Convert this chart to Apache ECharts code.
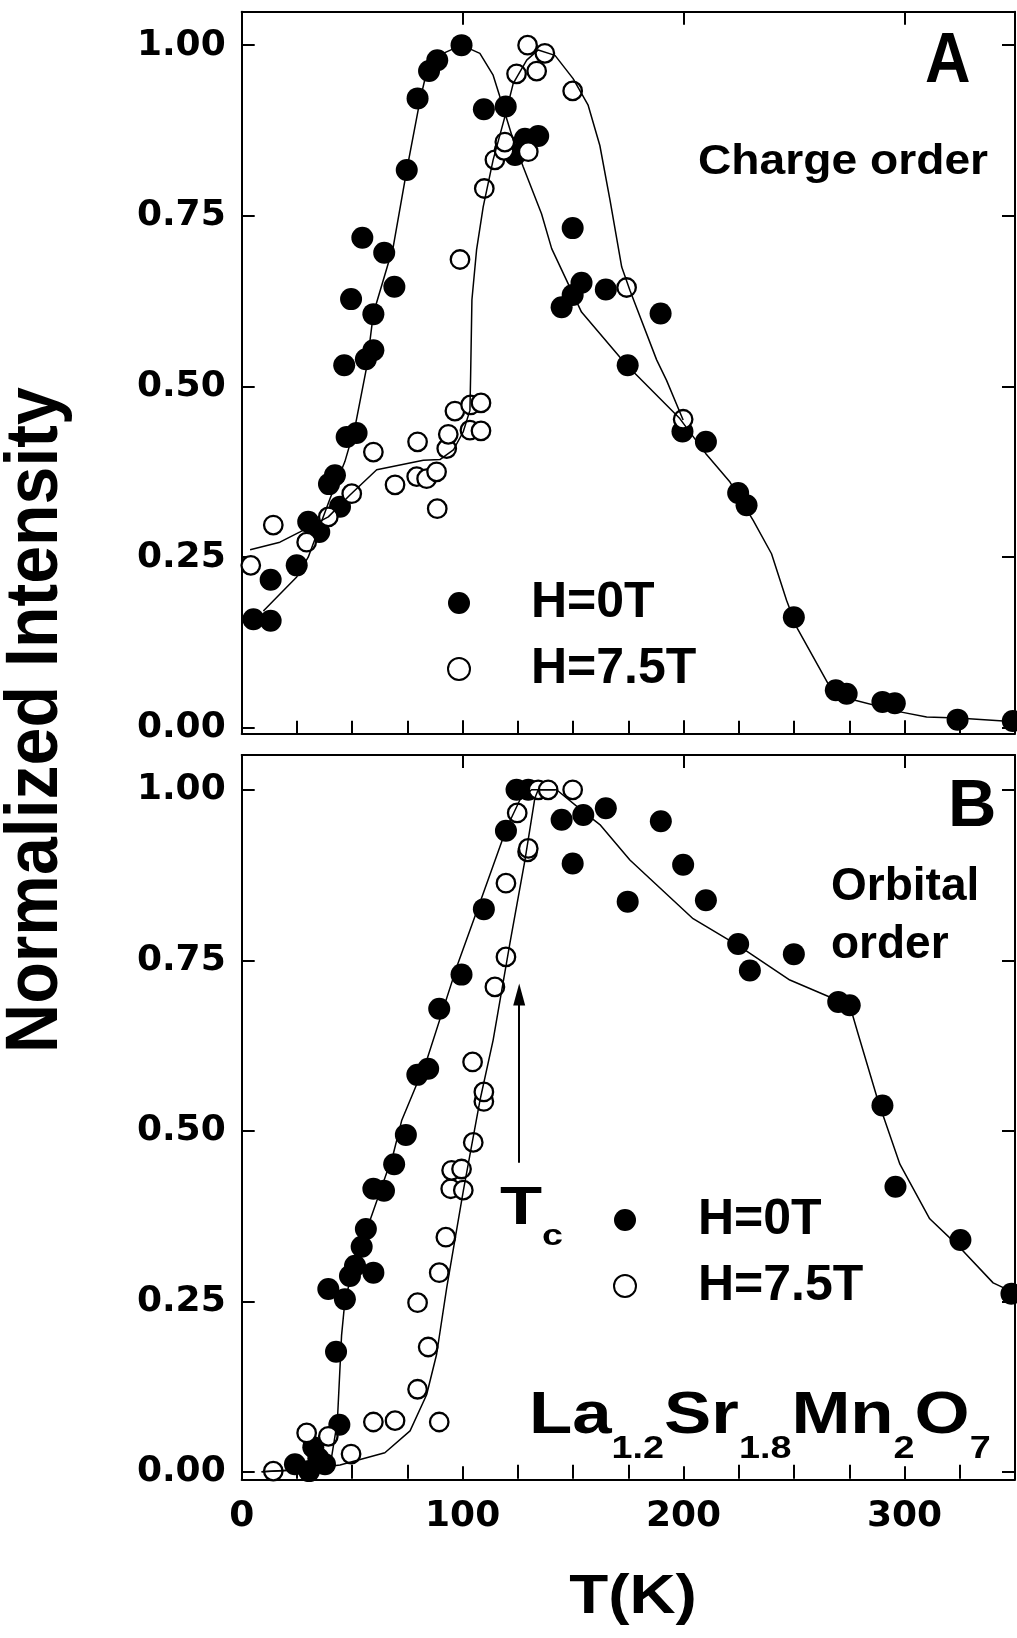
<!DOCTYPE html>
<html><head><meta charset="utf-8">
<script src="https://cdn.jsdelivr.net/npm/echarts@6.0.0/dist/echarts.min.js"></script>
<style>html,body{margin:0;padding:0;background:#fff}#c{width:1017px;height:1638px}</style>
</head><body><div id="c"></div>
<script>
// ---- data: [T (K), normalized intensity] ----
const chargeH0 = [[5.3,0.159],[13.1,0.157],[13.1,0.217],[24.9,0.238],[30.1,0.302],[35.1,0.287],[39.5,0.357],[42.2,0.370],[44.5,0.324],[46.4,0.531],[47.5,0.426],[49.5,0.628],[52.0,0.432],[54.6,0.718],[56.2,0.540],[59.6,0.553],[59.6,0.606],[64.5,0.696],[69.1,0.646],[74.7,0.817],[79.6,0.922],[84.8,0.962],[88.5,0.978],[99.5,1.000],[109.6,0.906],[119.5,0.910],[123.7,0.839],[128.2,0.863],[134.2,0.867],[144.8,0.616],[149.8,0.634],[149.8,0.732],[153.8,0.652],[164.8,0.642],[174.7,0.531],[189.6,0.607],[199.5,0.434],[210.1,0.419],[224.7,0.344],[228.5,0.326],[249.9,0.162],[268.9,0.055],[273.8,0.050],[290.0,0.038],[295.6,0.036],[324.0,0.012],[349.0,0.010]];
const chargeH75 = [[4.1,0.238],[14.3,0.297],[29.4,0.272],[39.2,0.309],[49.8,0.343],[59.6,0.404],[69.4,0.356],[79.2,0.368],[79.6,0.419],[83.7,0.365],[88.2,0.375],[88.5,0.321],[92.8,0.409],[93.5,0.430],[96.5,0.464],[98.8,0.686],[103.3,0.436],[103.6,0.473],[108.3,0.435],[108.3,0.476],[109.8,0.790],[114.6,0.832],[118.7,0.846],[119.1,0.858],[124.4,0.958],[129.4,1.000],[129.7,0.844],[133.5,0.962],[137.2,0.988],[149.8,0.933],[174.2,0.645],[199.8,0.452]];
const chargeFitH0 = [[9.8,0.171],[17,0.195],[24.9,0.221],[30.1,0.250],[40.0,0.336],[46.7,0.390],[51.3,0.441],[56.6,0.529],[59.6,0.607],[68.6,0.705],[74.7,0.817],[80.7,0.919],[83.7,0.961],[91.2,0.988],[99.5,1.000],[107.8,0.988],[113.8,0.956],[116.9,0.924],[122.9,0.861],[127.4,0.822],[135.7,0.753],[140.3,0.702],[153.8,0.609],[171.2,0.543],[175.0,0.529],[198.3,0.453],[210.0,0.402],[221.0,0.360],[231.5,0.304],[239.8,0.255],[246.6,0.187],[251.1,0.148],[266.2,0.060],[276.7,0.041],[298.6,0.023],[310.0,0.016],[324.0,0.0145],[350,0.009]];
const chargeFitH75 = [[3.8,0.261],[17.3,0.272],[26.4,0.287],[39.2,0.309],[49.0,0.341],[61.1,0.378],[82.2,0.392],[89.7,0.393],[95.8,0.407],[100.3,0.434],[103.3,0.465],[103.6,0.514],[104.2,0.627],[106.3,0.700],[109.3,0.763],[113.8,0.832],[119.1,0.895],[122.9,0.944],[129.0,0.978],[134.2,0.993],[141.8,0.985],[150.0,0.951],[156.8,0.912],[162.1,0.853],[166.7,0.773],[172.0,0.675],[175.7,0.641],[187.8,0.539],[192.3,0.509],[199.8,0.451]];
const orbitalH0 = [[24.1,0.011],[30.5,0.001],[32.4,0.036],[34.7,0.020],[37.7,0.011],[39.2,0.268],[42.7,0.176],[44.2,0.069],[46.7,0.253],[49.0,0.287],[51.3,0.302],[54.3,0.330],[56.2,0.356],[59.6,0.292],[59.6,0.415],[64.4,0.412],[69.0,0.451],[74.3,0.494],[79.5,0.582],[84.4,0.591],[89.4,0.679],[99.5,0.729],[109.6,0.825],[119.6,0.940],[124.4,1.000],[129.7,1.000],[144.8,0.956],[149.8,0.892],[154.6,0.963],[164.8,0.973],[174.7,0.836],[189.7,0.954],[199.8,0.890],[210.1,0.838],[224.7,0.774],[230.0,0.735],[249.9,0.759],[270.0,0.689],[275.2,0.684],[290.0,0.537],[295.9,0.418],[325.3,0.340],[348.4,0.261]];
const orbitalH75 = [[14.3,0.001],[29.4,0.057],[39.2,0.052],[49.5,0.026],[59.6,0.073],[69.4,0.075],[79.6,0.121],[79.6,0.248],[84.4,0.183],[89.4,0.073],[89.4,0.292],[92.4,0.344],[94.6,0.415],[95.0,0.442],[99.5,0.444],[100.3,0.413],[104.5,0.601],[104.8,0.483],[109.6,0.543],[109.6,0.557],[114.6,0.711],[119.6,0.755],[119.6,0.863],[124.7,0.966],[129.4,0.909],[129.7,0.914],[134.2,1.000],[138.7,1.000],[149.8,1.000]];
const orbitalFitH0 = [[9,0.0],[28,0.003],[40,0.008],[43.3,0.074],[45.2,0.200],[46.7,0.250],[49.8,0.290],[58.0,0.368],[68.6,0.466],[72.4,0.515],[83.7,0.603],[97.3,0.740],[109.3,0.848],[119.9,0.944],[125.9,0.985],[131.2,1.0],[142.5,1.0],[154.6,0.968],[162.1,0.949],[175.7,0.897],[184.7,0.870],[204.3,0.811],[225.5,0.770],[248.1,0.721],[267.7,0.694],[275.2,0.684],[279.0,0.642],[288.0,0.544],[297.9,0.451],[311.4,0.371],[325.0,0.329],[340.1,0.277],[350,0.262]];
const orbitalFitH75 = [[9,0.0],[30,0.004],[44.5,0.010],[64.8,0.028],[76.2,0.060],[83.7,0.113],[88.2,0.172],[92.8,0.270],[100.3,0.412],[107.8,0.544],[113.8,0.633],[121.4,0.775],[128.2,0.897],[132.7,0.988],[134.2,1.0],[142,1.0]];
const tcArrow = [[125.6,0.453],[125.6,0.700]];

// ---- ticks / labels ----
const yTicks = [0, 0.25, 0.5, 0.75, 1.0];
const xMajor = [0, 100, 200, 300];
const xMinor = [25, 50, 75, 125, 150, 175, 225, 250, 275, 325];
const legendNames = ['H=0T', 'H=7.5T'];

const BLACK = '#000';
const TXT = '"Liberation Sans", Arial, Helvetica, sans-serif';
const TICKFONT = '"DejaVu Sans", Verdana, sans-serif';

function xAxes(gi, withLabels) {
  const base = {type:'value', gridIndex:gi, min:0, max:350, splitLine:{show:false},
    axisLine:{show:true, onZero:false, lineStyle:{color:BLACK, width:2}}};
  const major = {show:true, inside:true, length:13, customValues:xMajor, lineStyle:{color:BLACK, width:2}};
  const minor = {show:true, inside:true, length:7, customValues:xMinor, lineStyle:{color:BLACK, width:2}};
  return [
    Object.assign({}, base, {position:'bottom', axisTick:major,
      axisLabel: withLabels ? {show:true, customValues:xMajor, margin:19, color:BLACK,
        fontFamily:TICKFONT, fontWeight:'bold', fontSize:36} : {show:false}}),
    Object.assign({}, base, {position:'bottom', axisLine:{show:false}, axisTick:minor, axisLabel:{show:false}}),
    Object.assign({}, base, {position:'top', axisTick:major, axisLabel:{show:false}}),
    Object.assign({}, base, {position:'top', axisLine:{show:false}, axisTick:minor, axisLabel:{show:false}})
  ];
}
function yAxes(gi, min, max) {
  const base = {type:'value', gridIndex:gi, min:min, max:max, splitLine:{show:false},
    axisLine:{show:true, onZero:false, lineStyle:{color:BLACK, width:2}},
    axisTick:{show:true, inside:true, length:13, customValues:yTicks, lineStyle:{color:BLACK, width:2}}};
  return [
    Object.assign({}, base, {position:'left', axisLabel:{show:true, customValues:yTicks, margin:16,
      formatter:(v)=>Number(v).toFixed(2), color:BLACK, fontFamily:TICKFONT, fontWeight:'bold', fontSize:36}}),
    Object.assign({}, base, {position:'right', axisLabel:{show:false}})
  ];
}

function filled(name, xi, yi, data) {
  return {type:'scatter', name:name, xAxisIndex:xi, yAxisIndex:yi, data:data, symbol:'circle',
    symbolSize:22, itemStyle:{color:BLACK, opacity:1}, emphasis:{disabled:true}, z:2, silent:true};
}
function open(name, xi, yi, data) {
  return {type:'scatter', name:name, xAxisIndex:xi, yAxisIndex:yi, data:data, symbol:'circle',
    symbolSize:18.5, itemStyle:{color:'#fff', borderColor:BLACK, borderWidth:2.3, opacity:1},
    emphasis:{disabled:true}, z:3, silent:true};
}
function fit(name, xi, yi, data) {
  return {type:'line', name:name, xAxisIndex:xi, yAxisIndex:yi, data:data, showSymbol:false, symbol:'none',
    lineStyle:{color:BLACK, width:1.5}, z:4, silent:true};
}

const legendBase = {orient:'vertical', padding:0, itemGap:16, itemWidth:22, itemHeight:22,
  selectedMode:false, data:legendNames};

const fitB75 = fit('fit B 7.5T', 4, 2, orbitalFitH75);
fitB75.markLine = {silent:true, animation:false, symbol:['none','triangle'], symbolSize:[12,22],
  label:{show:false}, lineStyle:{color:BLACK, width:2, type:'solid'},
  data:[[{coord:tcArrow[0]}, {coord:tcArrow[1]}]]};

const option = {
  animation:false,
  backgroundColor:'#fff',
  grid:[
    {left:241.7, top:11.7, width:773.3, height:721.6},
    {left:241.7, top:755, width:773.3, height:724.3}
  ],
  xAxis: xAxes(0, false).concat(xAxes(1, true)),
  yAxis: yAxes(0, -0.008, 1.049).concat(yAxes(1, -0.011, 1.051)),
  legend:[
    Object.assign({}, legendBase, {left:447, top:578,
      textStyle:{fontFamily:TXT, fontWeight:'bold', fontSize:50, lineHeight:50, color:BLACK, padding:[0,0,0,56]}}),
    Object.assign({}, legendBase, {left:613, top:1195,
      textStyle:{fontFamily:TXT, fontWeight:'bold', fontSize:50, lineHeight:50, color:BLACK, padding:[0,0,0,57]}})
  ],
  series:[
    filled('H=0T', 0, 0, chargeH0),
    open('H=7.5T', 0, 0, chargeH75),
    fit('fit A 0T', 0, 0, chargeFitH0),
    fit('fit A 7.5T', 0, 0, chargeFitH75),
    filled('H=0T', 4, 2, orbitalH0),
    open('H=7.5T', 4, 2, orbitalH75),
    fit('fit B 0T', 4, 2, orbitalFitH0),
    fitB75
  ],
  graphic:[
    {type:'text', x:37, y:720, rotation:Math.PI/2, scaleX:0.92,
      style:{text:'Normalized Intensity', fontFamily:TXT, fontWeight:'bold', fontSize:74, fill:BLACK, align:'center', verticalAlign:'middle'}},
    {type:'text', x:633, y:1598, scaleX:1.14,
      style:{text:'T(K)', fontFamily:TXT, fontWeight:'bold', fontSize:56, fill:BLACK, align:'center', verticalAlign:'middle'}},
    {type:'text', x:925, y:62.7, scaleX:0.9,
      style:{text:'A', fontFamily:TXT, fontWeight:'bold', fontSize:70, fill:BLACK, align:'left', verticalAlign:'middle'}},
    {type:'text', x:698, y:162, scaleX:1.1,
      style:{text:'Charge order', fontFamily:TXT, fontWeight:'bold', fontSize:42, fill:BLACK, align:'left', verticalAlign:'middle'}},
    {type:'text', x:948, y:807.5,
      style:{text:'B', fontFamily:TXT, fontWeight:'bold', fontSize:67, fill:BLACK, align:'left', verticalAlign:'middle'}},
    {type:'text', x:831, y:887.3,
      style:{text:'Orbital', fontFamily:TXT, fontWeight:'bold', fontSize:46, fill:BLACK, align:'left', verticalAlign:'middle'}},
    {type:'text', x:831, y:945.7,
      style:{text:'order', fontFamily:TXT, fontWeight:'bold', fontSize:46, fill:BLACK, align:'left', verticalAlign:'middle'}},
    {type:'text', x:500, y:1209.6, scaleX:1.3,
      style:{text:'{t|T}{s|c}', align:'left', verticalAlign:'middle', fill:BLACK,
        rich:{t:{fontFamily:TXT, fontWeight:'bold', fontSize:53, lineHeight:53, verticalAlign:'middle', fill:BLACK},
              s:{fontFamily:TXT, fontWeight:'bold', fontSize:29, lineHeight:29, verticalAlign:'middle', padding:[54,0,0,0], fill:BLACK}}}},
    {type:'text', x:529, y:1416, scaleX:1.18,
      style:{text:'{m|La}{s|1.2}{m|Sr}{s|1.8}{m|Mn}{s|2}{m|O}{s|7}', align:'left', verticalAlign:'middle', fill:BLACK,
        rich:{m:{fontFamily:TXT, fontWeight:'bold', fontSize:60, lineHeight:60, verticalAlign:'middle', fill:BLACK},
              s:{fontFamily:TXT, fontWeight:'bold', fontSize:32, lineHeight:32, verticalAlign:'middle', padding:[66,0,0,0], fill:BLACK}}}}
  ]
};

const chart = echarts.init(document.getElementById('c'), null, {renderer:'canvas'});
chart.setOption(option);
</script></body></html>
